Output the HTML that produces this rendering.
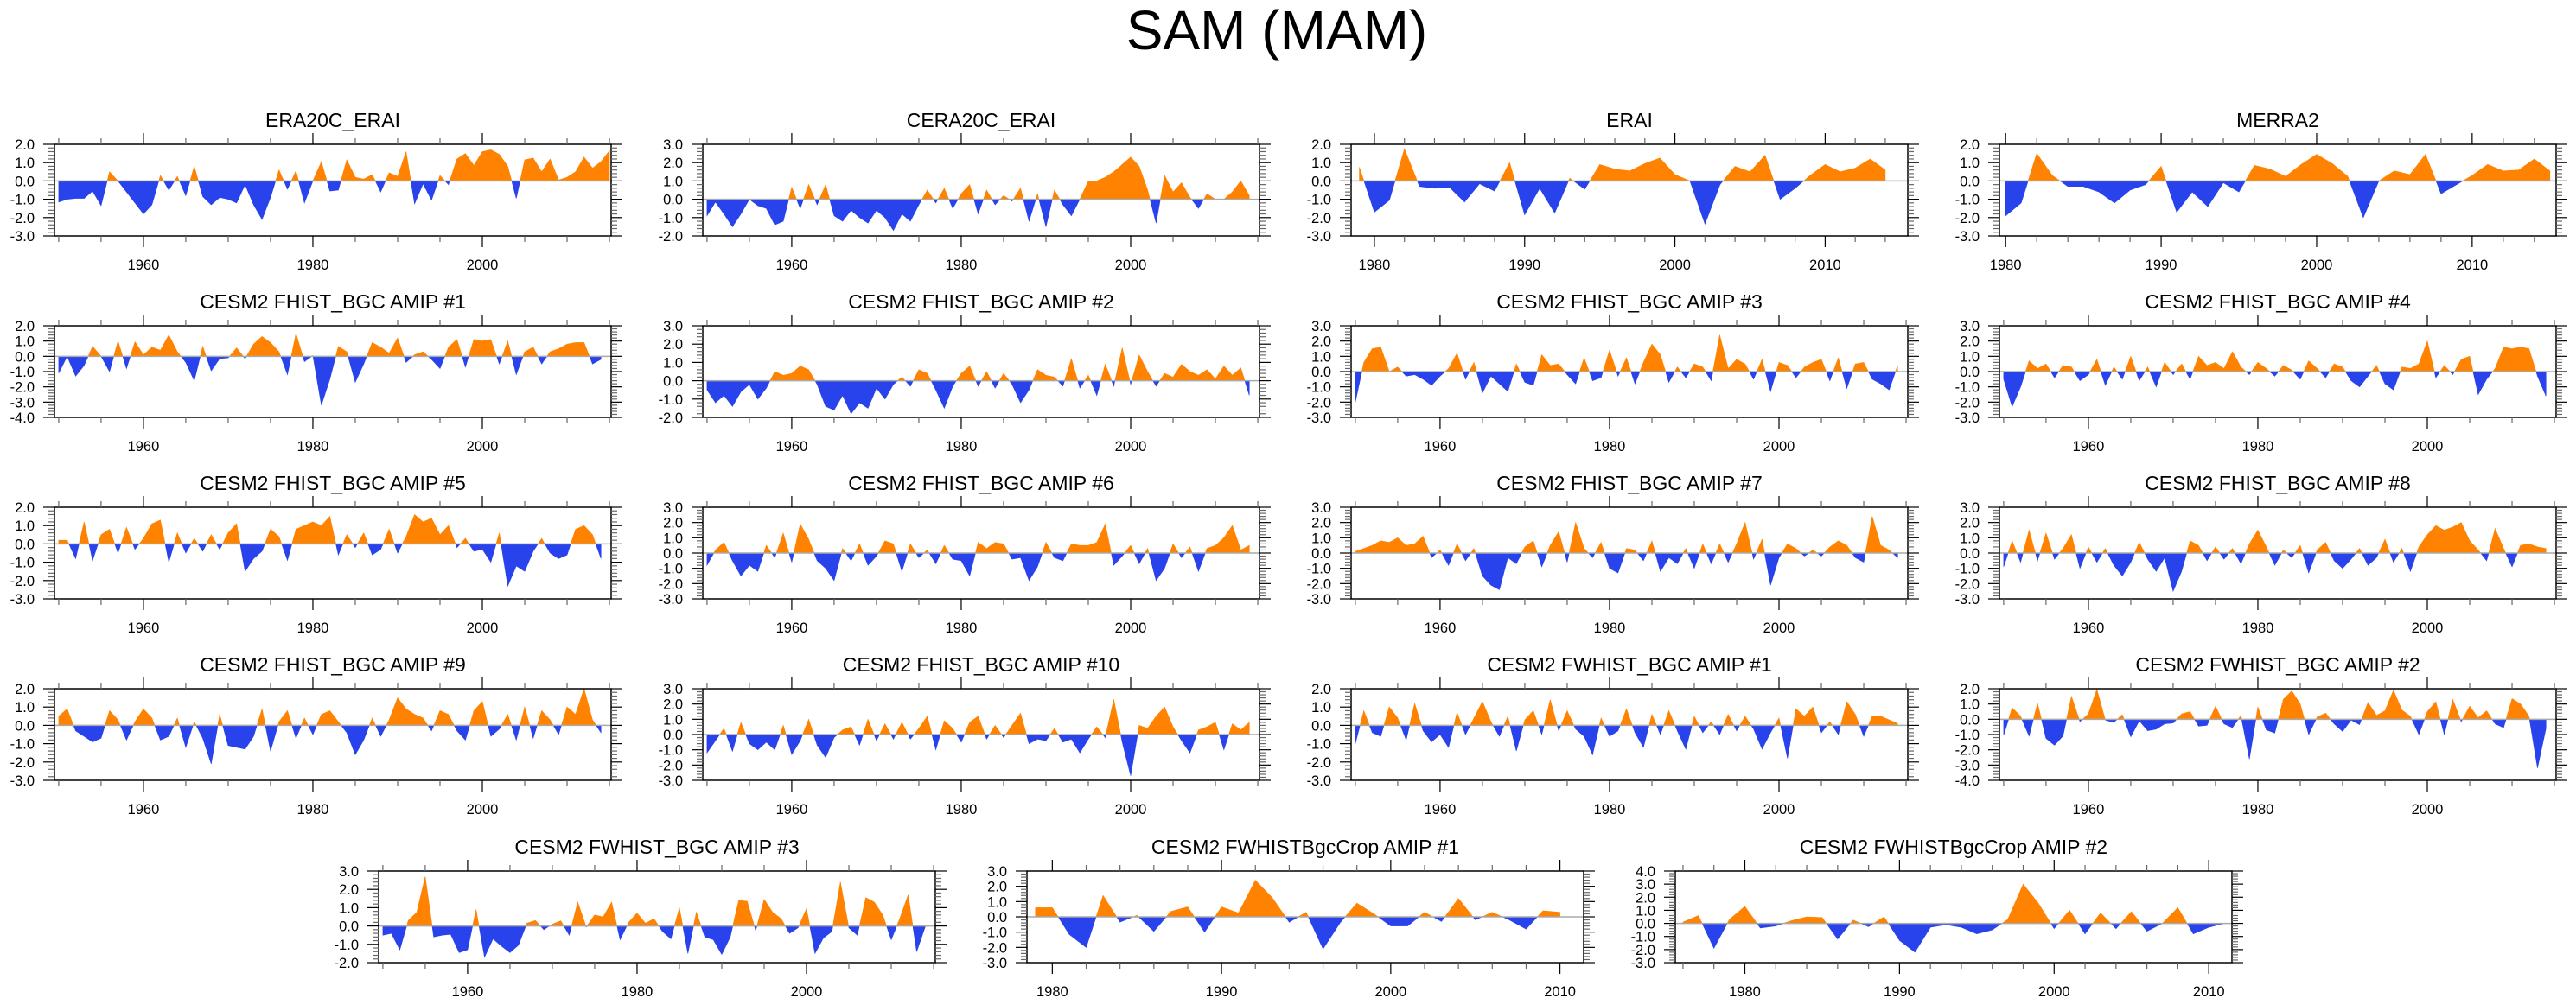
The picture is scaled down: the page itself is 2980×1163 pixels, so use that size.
<!DOCTYPE html>
<html><head><meta charset="utf-8">
<style>
html,body{margin:0;padding:0;background:#fff;}
svg{display:block;font-family:"Liberation Sans",Arial,sans-serif;}
</style></head>
<body>
<svg id="fig" width="2980" height="1163" viewBox="0 0 2980 1163" xmlns="http://www.w3.org/2000/svg">
<rect width="2980" height="1163" fill="#fff"/>
<text x="1477" y="57" font-size="64" text-anchor="middle" fill="#000">SAM (MAM)</text>
</svg>
<script>
const titles = ["ERA20C_ERAI","CERA20C_ERAI","ERAI","MERRA2",
"CESM2 FHIST_BGC AMIP #1","CESM2 FHIST_BGC AMIP #2","CESM2 FHIST_BGC AMIP #3","CESM2 FHIST_BGC AMIP #4",
"CESM2 FHIST_BGC AMIP #5","CESM2 FHIST_BGC AMIP #6","CESM2 FHIST_BGC AMIP #7","CESM2 FHIST_BGC AMIP #8",
"CESM2 FHIST_BGC AMIP #9","CESM2 FHIST_BGC AMIP #10","CESM2 FWHIST_BGC AMIP #1","CESM2 FWHIST_BGC AMIP #2",
"CESM2 FWHIST_BGC AMIP #3","CESM2 FWHISTBgcCrop AMIP #1","CESM2 FWHISTBgcCrop AMIP #2"];
const startYears = [1950,1950,1979,1980, 1950,1950,1950,1950, 1950,1950,1950,1950, 1950,1950,1950,1950, 1950,1979,1976];
const yMins = [-3,-2,-3,-3, -4,-2,-3,-3, -3,-3,-3,-3, -3,-3,-3,-4, -2,-3,-3];
const yMaxs = [2,3,2,2, 2,3,3,3, 2,3,3,3, 2,3,2,2, 3,3,4];
const s0 = [-1.15,-1.0,-0.95,-0.95,-0.55,-1.35,0.5,0.0,-0.6,-1.2,-1.8,-1.3,0.3,-0.5,0.25,-0.8,0.8,-0.85,-1.3,-0.9,-1.0,-1.2,-0.2,-1.3,-2.1,-0.9,0.6,-0.45,0.55,-1.2,0.0,1.05,-0.55,-0.5,1.15,0.2,0.1,0.35,-0.6,0.45,0.25,1.6,-1.25,-0.15,-1.05,0.3,-0.2,1.2,1.5,0.85,1.6,1.7,1.45,0.8,-0.95,1.15,1.25,0.5,1.2,0.05,0.2,0.5,1.3,0.7,1.05,1.65];
const s1 = [-0.9,-0.15,-0.8,-1.5,-0.8,0.0,-0.35,-0.5,-1.4,-1.2,0.65,-0.5,0.8,-0.3,0.8,-0.9,-1.2,-0.6,-1.0,-1.3,-0.6,-1.0,-1.7,-0.8,-1.2,-0.3,0.5,-0.2,0.6,-0.5,0.3,0.8,-0.8,0.5,-0.3,0.2,-0.1,0.6,-1.2,0.3,-1.5,0.5,-0.3,-0.9,0.0,1.0,1.0,1.2,1.5,1.9,2.3,1.8,0.5,-1.3,1.3,0.4,0.9,0.1,-0.5,0.3,0.0,0.0,0.4,1.0,0.2];
const s2 = [0.75,-1.7,-1.05,1.75,-0.3,-0.4,-0.35,-1.15,-0.15,-0.55,1.0,-1.85,-0.4,-1.75,0.15,-0.45,0.9,0.65,0.55,0.95,1.25,0.35,0.0,-2.35,-0.2,0.8,0.5,1.4,-1.0,-0.4,0.3,0.9,0.5,0.7,1.2,0.6];
const s3 = [-1.9,-1.2,1.5,0.3,-0.3,-0.3,-0.6,-1.2,-0.5,-0.2,0.8,-1.7,-0.6,-1.4,-0.1,-0.6,0.85,0.65,0.25,0.9,1.45,0.95,0.25,-2.0,0.0,0.55,0.35,1.45,-0.7,-0.2,0.3,0.9,0.55,0.6,1.2,0.55];
const s4 = [-1.1,0.0,-1.3,-0.6,0.65,0.0,-1.0,1.0,-0.8,0.95,0.1,0.6,0.4,1.4,0.3,-0.4,-1.6,0.65,-0.95,-0.15,-0.1,0.55,-0.15,0.8,1.3,0.9,0.3,-1.2,1.5,-0.35,0.05,-3.2,-1.5,0.65,0.3,-1.7,-0.5,0.9,0.6,0.2,1.2,-0.4,0.1,0.3,-0.2,-0.8,0.6,1.1,-0.7,1.1,1.0,1.1,-0.5,1.0,-1.2,0.3,0.6,-0.5,0.3,0.5,0.8,0.9,0.9,-0.5,-0.2];
const s5 = [-0.5,-1.2,-0.8,-1.4,-0.6,-0.2,-1.0,-0.4,0.5,0.3,0.4,0.8,0.6,-0.2,-1.4,-1.6,-0.8,-1.8,-1.2,-1.5,-0.4,-1.0,-0.2,0.2,-0.3,0.6,0.4,-0.5,-1.5,-0.3,0.4,0.8,-0.3,0.5,-0.4,0.4,-0.2,-1.2,-0.5,0.6,0.3,0.2,-0.3,1.2,-0.4,0.3,-0.8,0.9,-0.3,1.8,-0.2,1.4,0.5,-0.3,0.4,0.2,0.9,0.5,0.3,0.6,0.1,0.8,0.3,0.7,-0.8];
const s6 = [-2.0,0.6,1.5,1.6,0.0,0.3,-0.3,-0.2,-0.5,-0.9,-0.3,0.2,1.2,-0.5,0.6,-1.4,-0.3,-0.8,-1.3,0.5,-0.7,-0.9,1.1,0.4,0.5,-0.2,-0.8,0.9,-0.6,-0.4,1.4,-0.3,0.9,-0.8,0.6,1.8,1.1,-0.7,0.3,-0.4,0.5,0.3,-0.6,2.4,0.2,0.8,0.5,-0.5,0.8,-1.3,0.6,0.4,-0.4,0.3,0.6,0.8,-0.6,0.9,-1.1,0.5,0.6,-0.5,-0.8,-1.2,0.4];
const s7 = [-0.5,-2.3,-1.0,0.7,0.2,0.5,-0.4,0.4,0.3,-0.6,-0.2,0.8,-0.9,0.3,-0.5,1.0,-0.6,0.3,-1.0,0.6,-0.2,0.5,-0.5,1.0,0.4,0.6,0.2,1.3,0.3,-0.2,0.6,0.2,-0.3,0.4,0.1,-0.5,0.7,0.2,-0.4,0.5,0.3,-0.6,-1.0,-0.3,0.4,-0.8,-1.2,0.3,0.2,0.5,2.0,-0.4,0.4,-0.2,0.8,1.0,-1.5,-0.5,0.2,1.6,1.5,1.6,1.5,-0.3,-1.6];
const s8 = [0.2,0.2,-0.8,1.2,-0.9,0.5,0.8,-0.5,0.9,-0.3,0.3,1.1,1.3,-1.0,0.6,-0.5,0.3,-0.4,0.5,-0.3,0.6,1.1,-1.5,-0.8,-0.4,0.8,0.4,-0.9,0.8,1.0,1.2,1.0,1.5,-0.6,0.5,-0.2,0.6,-0.6,-0.3,0.8,-0.5,0.4,1.6,1.2,1.4,0.5,1.0,-0.2,0.3,-0.4,-0.3,-1.0,0.6,-2.3,-1.2,-1.5,-0.4,0.3,-0.5,-0.8,-0.6,0.8,1.0,0.5,-0.8];
const s9 = [-0.8,0.2,0.7,-0.5,-1.5,-0.8,-1.2,0.5,-0.3,1.3,-0.6,1.9,0.9,-0.5,-1.0,-1.8,0.3,-0.5,0.6,-0.8,-0.2,0.8,0.6,-1.2,0.6,-0.3,0.2,-0.7,0.5,-0.4,-0.5,-1.5,0.7,0.3,0.7,0.6,-0.4,-0.3,-1.8,-0.9,0.7,-0.3,-0.5,0.6,0.5,0.5,0.7,1.9,-0.8,-0.2,0.5,-0.7,0.3,-1.8,-1.0,0.6,-0.3,0.4,-1.2,0.3,0.5,1.0,1.8,0.2,0.5];
const s10 = [0.1,0.3,0.5,0.8,0.7,1.0,0.5,0.6,1.1,-0.3,0.2,-0.8,0.6,-0.5,0.3,-1.5,-2.1,-2.4,-0.3,-0.7,0.4,0.8,-0.9,0.5,1.4,-0.6,2.0,0.3,-0.3,0.7,-1.0,-1.3,0.3,0.2,-0.5,0.8,-1.2,-0.3,-0.7,0.3,-1.0,0.6,-0.7,0.6,-0.6,0.6,2.0,-0.4,0.9,-2.1,-0.3,0.6,0.3,-0.2,0.2,-0.2,0.4,0.8,0.5,-0.3,-0.6,2.4,0.5,0.2,-0.3];
const s11 = [-0.9,0.8,-0.6,1.5,-0.5,1.3,-0.4,0.3,1.2,-1.0,0.4,-0.6,0.3,-0.8,-1.5,-0.6,0.7,-0.4,-1.2,-0.3,-2.5,-1.2,0.8,0.5,-0.5,0.4,-0.4,0.3,-0.7,0.6,1.5,0.4,-0.8,0.2,-0.3,0.5,-1.3,0.2,0.7,-0.5,-1.0,-0.4,0.3,-0.8,-0.3,0.9,-0.6,0.3,-1.2,0.4,1.2,1.8,1.5,1.7,2.0,0.8,0.2,-0.5,1.6,0.3,-0.9,0.5,0.6,0.4,0.3];
const s12 = [0.5,0.9,-0.3,-0.6,-0.9,-0.7,0.8,0.3,-0.8,0.2,0.9,0.4,-0.8,-0.6,0.4,-1.2,0.2,-0.7,-2.1,0.6,-1.1,-1.2,-1.3,-0.6,0.9,-1.4,0.2,0.8,-0.7,0.4,-0.5,0.6,0.8,0.2,-0.4,-1.6,-0.8,0.4,-0.6,0.3,1.5,0.9,0.6,0.4,-0.3,0.8,0.6,-0.3,-0.8,0.8,1.3,-0.6,-0.2,0.6,-0.8,1.0,-0.7,0.8,0.3,-0.5,1.0,0.6,2.0,0.3,-0.4];
const s13 = [-1.2,-0.4,0.4,-1.1,0.8,-0.6,-1.0,-0.5,-1.0,0.6,-1.3,-0.4,1.0,-0.7,-1.5,-0.2,0.3,0.5,-0.7,1.0,-0.4,0.7,-0.3,0.8,-0.3,0.4,1.2,-1.0,0.9,0.4,-0.5,0.8,1.2,-0.3,0.6,-0.2,0.6,1.4,-0.6,-0.3,-0.4,0.4,-0.5,-0.3,-1.2,-0.3,0.5,-0.2,2.3,-0.5,-2.7,0.6,0.4,1.2,1.8,0.5,-0.4,-1.2,0.3,0.5,0.8,-1.0,0.7,0.3,0.8];
const s14 = [-1.0,0.8,-0.4,-0.6,1.0,0.4,-0.8,1.2,-0.3,-0.9,-0.5,-1.2,0.7,-0.5,0.4,1.3,0.2,-0.6,0.5,-1.4,0.3,0.8,-0.5,1.4,-0.3,0.8,-0.2,-0.6,-1.6,0.4,-0.6,-0.3,0.9,-0.4,-1.2,0.6,-0.5,0.8,-0.3,-1.3,0.5,-0.4,0.2,-0.5,0.6,-0.3,0.5,-0.2,-1.3,-0.4,0.4,-1.8,0.9,0.5,1.0,-0.4,0.2,-0.5,1.3,0.6,-0.6,0.5,0.5,0.3,0.1];
const s15 = [-1.05,0.75,0.2,-1.1,1.05,-1.25,-1.7,-1.1,1.5,-0.15,0.35,1.95,-0.05,-0.2,0.3,-1.15,-0.1,-0.75,-0.65,-0.3,-0.25,0.35,0.5,-0.45,-0.4,0.85,-0.3,-0.55,0.25,-2.6,0.8,-0.7,-0.9,1.3,1.85,1.0,-1.0,0.15,0.4,-0.3,-0.8,-0.05,-0.35,1.1,0.25,0.55,1.9,0.6,0.2,-1.0,0.5,1.15,-1.0,1.3,-0.15,0.85,0.1,0.55,-0.3,-0.55,1.35,1.0,0.2,-3.2,-0.6];
const s16 = [-0.5,-0.4,-1.3,0.3,0.75,2.7,-0.6,-0.5,-0.45,-1.45,-1.3,0.9,-1.7,-0.7,-1.1,-1.45,-1.05,0.15,0.3,-0.2,0.1,0.28,-0.5,1.3,-0.05,0.6,0.5,1.3,-0.75,0.2,0.7,0.15,0.4,-0.3,-0.7,1.0,-1.5,0.75,-0.6,-0.75,-1.55,-0.6,1.4,1.35,-0.25,1.45,0.75,0.4,-0.4,-0.1,0.95,-1.5,-0.65,-0.3,2.4,-0.1,-0.5,1.55,1.3,0.6,-0.75,0.4,1.7,-1.4,-0.05];
const s17 = [0.6,0.6,-1.15,-2.0,1.4,-0.35,0.1,-0.95,0.35,0.65,-1.0,0.65,0.25,2.4,1.25,-0.35,0.3,-2.1,-0.4,0.9,0.2,-0.6,-0.6,0.3,-0.3,1.2,-0.2,0.3,-0.2,-0.8,0.4,0.3];
const s18 = [0.1,0.6,-1.9,0.3,1.3,-0.35,-0.2,0.2,0.5,0.45,-1.2,0.25,-0.25,0.5,-1.3,-2.2,-0.3,-0.1,-0.3,-0.8,-0.5,0.3,3.0,1.5,-0.4,1.0,-0.8,0.8,-0.4,0.9,-0.6,0.0,1.2,-0.8,-0.3,0.0];
const series = [s0,s1,s2,s3,s4,s5,s6,s7,s8,s9,s10,s11,s12,s13,s14,s15,s16,s17,s18];

const NS = "http://www.w3.org/2000/svg";
const svg = document.getElementById('fig');
const W = 644, H = 106;
const lefts4 = [63, 813, 1563, 2313];
const tops = [167, 377, 587, 797];
const lefts3 = [438, 1188, 1938];
const xMins = [1949.5,1949.5,1978.45,1979.6, 1949.5,1949.5,1949.5,1949.5, 1949.5,1949.5,1949.5,1949.5, 1949.5,1949.5,1949.5,1949.5, 1949.5,1978.5,1975.5];
const xMaxs = [2015.2,2015.2,2015.5,2015.4, 2015.2,2015.2,2015.2,2015.2, 2015.2,2015.2,2015.2,2015.2, 2015.2,2015.2,2015.2,2015.2, 2015.2,2011.4,2011.5];

function mk(tag, attrs, parent){
  const e = document.createElementNS(NS, tag);
  for (const k in attrs) e.setAttribute(k, attrs[k]);
  (parent||svg).appendChild(e);
  return e;
}

for (let p = 0; p < 19; p++) {
  let L, T;
  if (p < 16) { L = lefts4[p % 4]; T = tops[Math.floor(p / 4)]; }
  else { L = lefts3[p - 16]; T = 1008; }
  const x0 = xMins[p], x1 = xMaxs[p], y0 = yMins[p], y1 = yMaxs[p];
  const sx = v => L + (v - x0) / (x1 - x0) * W;
  const sy = v => T + H - (v - y0) / (y1 - y0) * H;
  const g = mk('g', {});
  
  

  const data = series[p], yr0 = startYears[p];
  const zy = sy(0);
  const pts = data.map((v, i) => [yr0 + i, v]);
  function flush(arr, color, name) {
    if (arr.length < 2) return;
    const first = arr[0], last = arr[arr.length - 1];
    let d = 'M' + sx(first[0]) + ',' + zy;
    arr.forEach(q => { d += 'L' + sx(q[0]) + ',' + sy(q[1]); });
    d += 'L' + sx(last[0]) + ',' + zy + 'Z';
    const path = mk('path', { d: d, fill: color, stroke: color, 'stroke-width': 0.6 }, g);
    
    
  }
  let cur = [], sign = null;
  for (let i = 0; i < pts.length; i++) {
    const [x, v] = pts[i];
    const s = v >= 0 ? 1 : -1;
    if (sign === null) { sign = s; cur.push([x, v]); continue; }
    if (s !== sign) {
      const [xp, vp] = pts[i - 1];
      const xc = xp + (0 - vp) / (v - vp) * (x - xp);
      cur.push([xc, 0]);
      flush(cur, sign > 0 ? '#ff8300' : '#2843eb', sign > 0 ? 'positive-area' : 'negative-area');
      cur = [[xc, 0]];
      sign = s;
    }
    cur.push([x, v]);
  }
  flush(cur, sign > 0 ? '#ff8300' : '#2843eb', sign > 0 ? 'positive-area' : 'negative-area');

  const zl = mk('line', { x1: L, x2: L + W, y1: zy, y2: zy, stroke: '#aaa', 'stroke-width': 1.5 }, g);
  
  

  const fr = mk('rect', { x: L, y: T, width: W, height: H, fill: 'none', stroke: '#000', 'stroke-width': 1.5 }, g);
  
  

  for (let k = Math.round(y0 * 5); k <= Math.round(y1 * 5); k++) {
    const v = k / 5, y = sy(v), major = (k % 5 === 0);
    const len = major ? 13 : 7;
    mk('line', { x1: L - len, x2: L, y1: y, y2: y, stroke: major ? '#000' : '#666', 'stroke-width': 1.2 }, g);
    mk('line', { x1: L + W, x2: L + W + len, y1: y, y2: y, stroke: major ? '#000' : '#666', 'stroke-width': 1.2 }, g);
    if (major) {
      const t = mk('text', { x: L - 23, y: y + 6, 'font-size': 16.5, 'text-anchor': 'end' }, g);
      
      
      t.textContent = v.toFixed(1);
    }
  }
  const span = x1 - x0;
  const majorStep = span > 50 ? 20 : 10, minorStep = span > 50 ? 5 : 2;
  for (let yr = Math.ceil(x0 / minorStep) * minorStep; yr <= x1; yr += minorStep) {
    const x = sx(yr), major = (yr % majorStep === 0);
    const len = major ? 13 : 7;
    mk('line', { x1: x, x2: x, y1: T - len, y2: T, stroke: major ? '#000' : '#666', 'stroke-width': 1.2 }, g);
    mk('line', { x1: x, x2: x, y1: T + H, y2: T + H + len, stroke: major ? '#000' : '#666', 'stroke-width': 1.2 }, g);
    if (major) {
      const t = mk('text', { x: x, y: T + H + 39, 'font-size': 16.5, 'text-anchor': 'middle' }, g);
      
      
      t.textContent = yr;
    }
  }
  const tt = mk('text', { x: L + W / 2, y: T - 20, 'font-size': 23, 'text-anchor': 'middle' }, g);
  
  
  tt.textContent = titles[p];
}
</script>
</body></html>
